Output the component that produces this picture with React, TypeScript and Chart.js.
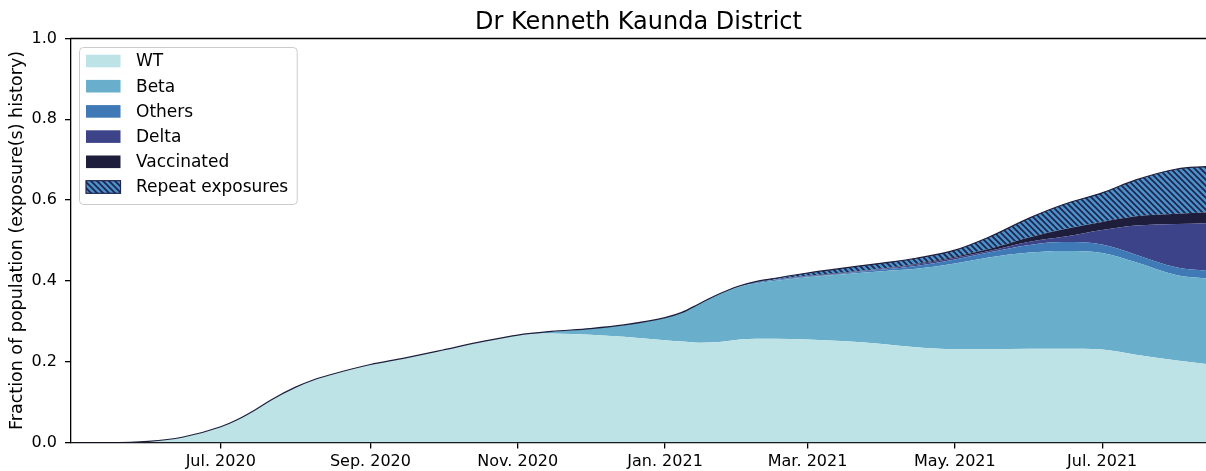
import React, { useEffect, useRef } from "react";
import { Chart, registerables } from "chart.js";

Chart.register(...registerables);

const TITLE = "Dr Kenneth Kaunda District";
const Y_LABEL = "Fraction of population (exposure(s) history)";

const dates = [
  "2020-04-30", "2020-05-15", "2020-06-01", "2020-06-15", "2020-07-01", "2020-07-08",
  "2020-07-15", "2020-07-22", "2020-08-01", "2020-08-08", "2020-08-15", "2020-09-01",
  "2020-09-15", "2020-10-01", "2020-10-15", "2020-11-01", "2020-11-15", "2020-12-01",
  "2020-12-15", "2021-01-01", "2021-01-08", "2021-01-15", "2021-01-22", "2021-02-01",
  "2021-02-08", "2021-02-15", "2021-03-01", "2021-03-15", "2021-04-01", "2021-04-15",
  "2021-05-01", "2021-05-15", "2021-06-01", "2021-06-15", "2021-07-01", "2021-07-15",
  "2021-08-01", "2021-08-13",
];

const wt = [
  0, 0, 0.003, 0.013, 0.039, 0.057,
  0.08, 0.106, 0.137, 0.154, 0.167, 0.193,
  0.209, 0.229, 0.247, 0.266, 0.27, 0.267,
  0.262, 0.253, 0.25, 0.247, 0.248, 0.255,
  0.257, 0.257, 0.255, 0.251, 0.244, 0.236,
  0.231, 0.231, 0.232, 0.232, 0.23, 0.217,
  0.203, 0.194,
];
const beta = [
  0, 0, 0, 0, 0, 0,
  0, 0, 0, 0, 0, 0,
  0, 0, 0, 0, 0.005, 0.015,
  0.029, 0.056, 0.072, 0.095, 0.115, 0.131,
  0.137, 0.143, 0.154, 0.165, 0.18, 0.194,
  0.212, 0.227, 0.238, 0.242, 0.239, 0.229,
  0.211, 0.212,
];
const others = [
  0, 0, 0, 0, 0, 0,
  0, 0, 0, 0, 0, 0,
  0, 0, 0, 0, 0, 0,
  0, 0, 0, 0.001, 0.001, 0.001,
  0.002, 0.002, 0.002, 0.002, 0.004, 0.007,
  0.01, 0.012, 0.019, 0.022, 0.021, 0.019,
  0.019, 0.019,
];
const delta = [
  0, 0, 0, 0, 0, 0,
  0, 0, 0, 0, 0, 0,
  0, 0, 0, 0, 0, 0,
  0, 0, 0, 0, 0, 0.001,
  0.001, 0.001, 0.001, 0.001, 0.002, 0.003,
  0.004, 0.004, 0.008, 0.013, 0.036, 0.072,
  0.108, 0.118,
];
const vaccinated = [
  0, 0, 0, 0, 0, 0,
  0, 0, 0, 0, 0, 0,
  0, 0, 0, 0, 0, 0,
  0, 0, 0, 0, 0, 0,
  0, 0, 0.0005, 0.001, 0.001, 0.002,
  0.003, 0.005, 0.011, 0.019, 0.02, 0.023,
  0.025, 0.026,
];
const repeatExposures = [
  0, 0, 0, 0, 0, 0,
  0, 0, 0, 0, 0, 0,
  0, 0, 0, 0, 0, 0,
  0, 0, 0, 0, 0, 0,
  0.002, 0.003, 0.007, 0.011, 0.013, 0.014,
  0.016, 0.029, 0.048, 0.061, 0.072, 0.09,
  0.111, 0.114,
];

const seriesNames = ["WT", "Beta", "Others", "Delta", "Vaccinated", "Repeat exposures"];
const seriesColors = ["#bde3e6", "#69aeca", "#3f7ab6", "#3d4389", "#1e1e3c", "#4b92c8"];
const HATCH_LINE = "#1f2450";

const tickDates = ["2020-07-01", "2020-09-01", "2020-11-01", "2021-01-01", "2021-03-01", "2021-05-01", "2021-07-01"];
const tickLabels = ["Jul. 2020", "Sep. 2020", "Nov. 2020", "Jan. 2021", "Mar. 2021", "May. 2021", "Jul. 2021"];
const X_START = "2020-04-30";
const X_END = "2021-08-13";
const yTicks = [0, 0.2, 0.4, 0.6, 0.8, 1.0];

const FONT = "'DejaVu Sans', sans-serif";

function dayNum(s: string): number {
  return Date.parse(s + "T00:00:00Z") / 86400000;
}

function makeHatch(bg: string, fg: string): CanvasPattern | string {
  const s = 6;
  const c = document.createElement("canvas");
  c.width = s;
  c.height = s;
  const g = c.getContext("2d");
  if (!g) return bg;
  g.fillStyle = bg;
  g.fillRect(0, 0, s, s);
  g.strokeStyle = fg;
  g.lineWidth = 1.7;
  g.beginPath();
  g.moveTo(-1, -1);
  g.lineTo(s + 1, s + 1);
  g.moveTo(-1, s - 1);
  g.lineTo(1, s + 1);
  g.moveTo(s - 1, -1);
  g.lineTo(s + 1, 1);
  g.stroke();
  return g.createPattern(c, "repeat") || bg;
}

export default function App() {
  const ref = useRef<HTMLCanvasElement | null>(null);

  useEffect(() => {
    document.body.style.margin = "0";
    const canvas = ref.current;
    if (!canvas) return;

    const layers = [wt, beta, others, delta, vaccinated, repeatExposures];
    const xs = dates.map(dayNum);
    const cum: number[][] = [];
    layers.forEach((arr, i) => {
      cum.push(arr.map((v, j) => v + (i > 0 ? cum[i - 1][j] : 0)));
    });
    const hatch = makeHatch(seriesColors[5], HATCH_LINE);
    const fills: (string | CanvasPattern)[] = seriesColors.slice(0, 5).concat([hatch as any]);

    const datasets: any[] = layers.map((_, i) => ({
      label: seriesNames[i],
      data: xs.map((x, j) => ({ x, y: cum[i][j] })),
      backgroundColor: fills[i],
      borderColor: fills[i],
      borderWidth: 0,
      pointRadius: 0,
      fill: i === 0 ? "origin" : "-1",
      cubicInterpolationMode: "monotone",
      order: 0,
    }));
    datasets.push({
      label: "_outline",
      data: xs.map((x, j) => ({ x, y: cum[5][j] })),
      borderColor: "#1e1e3c",
      borderWidth: 1.2,
      pointRadius: 0,
      fill: false,
      cubicInterpolationMode: "monotone",
      order: -1,
    });

    const tickValues = tickDates.map(dayNum);

    const decor = {
      id: "decor",
      afterDraw(chart: any) {
        const { ctx, chartArea } = chart;
        ctx.save();
        // top spine
        ctx.strokeStyle = "#000";
        ctx.lineWidth = 1.3;
        ctx.beginPath();
        ctx.moveTo(chartArea.left - 0.65, chartArea.top);
        ctx.lineTo(chartArea.right + 2, chartArea.top);
        ctx.stroke();
        // title
        ctx.fillStyle = "#000";
        ctx.font = `24px ${FONT}`;
        ctx.textAlign = "center";
        ctx.textBaseline = "alphabetic";
        ctx.fillText(TITLE, (chartArea.left + chartArea.right) / 2, 29);
        // y label
        ctx.save();
        ctx.translate(17, (chartArea.top + chartArea.bottom) / 2);
        ctx.rotate(-Math.PI / 2);
        ctx.font = `17.5px ${FONT}`;
        ctx.textBaseline = "middle";
        ctx.fillText(Y_LABEL, 0, 0);
        ctx.restore();
        // legend
        ctx.font = `17px ${FONT}`;
        let maxW = 0;
        seriesNames.forEach((n) => (maxW = Math.max(maxW, ctx.measureText(n).width)));
        const fx = 79.5, fy = 47.5;
        const fw = 136 - fx + maxW + 9;
        const fh = 157;
        ctx.beginPath();
        (ctx as any).roundRect(fx, fy, fw, fh, 4);
        ctx.fillStyle = "rgba(255,255,255,0.8)";
        ctx.fill();
        ctx.strokeStyle = "#cccccc";
        ctx.lineWidth = 1;
        ctx.stroke();
        const rows = [61, 86.2, 111.4, 136.6, 161.8, 187];
        seriesNames.forEach((n, i) => {
          const cy = rows[i];
          ctx.fillStyle = fills[i] as any;
          ctx.fillRect(86, cy - 6.3, 34.5, 12.6);
          if (i === 5) {
            ctx.strokeStyle = HATCH_LINE;
            ctx.lineWidth = 1.2;
            ctx.strokeRect(86, cy - 6.3, 34.5, 12.6);
          }
          ctx.fillStyle = "#000";
          ctx.textAlign = "left";
          ctx.textBaseline = "middle";
          ctx.fillText(n, 136, cy + 1);
        });
        ctx.restore();
      },
    };

    const chart = new Chart(canvas, {
      type: "line",
      data: { datasets },
      options: {
        animation: false,
        responsive: false,
        devicePixelRatio: 1,
        layout: { padding: { top: 38.5, left: 0, right: 0, bottom: 0 } },
        plugins: {
          legend: { display: false },
          title: { display: false },
          tooltip: { enabled: false },
        },
        elements: { line: { tension: 0.4 } },
        scales: {
          x: {
            type: "linear",
            min: dayNum(X_START),
            max: dayNum(X_END),
            afterBuildTicks: (scale: any) => {
              scale.ticks = tickValues.map((v) => ({ value: v }));
            },
            afterFit: (scale: any) => {
              scale.height = 28.5;
              scale.paddingLeft = 0;
              scale.paddingRight = 0;
            },
            ticks: {
              autoSkip: false,
              maxRotation: 0,
              padding: 4,
              color: "#000",
              font: { family: FONT, size: 16 },
              callback: (v: any) => {
                const i = tickValues.indexOf(Number(v));
                return i >= 0 ? tickLabels[i] : "";
              },
            },
            grid: {
              display: true,
              drawOnChartArea: false,
              drawTicks: true,
              tickLength: 6,
              color: "#000",
              lineWidth: 1.3,
            },
            border: { display: true, color: "#000", width: 1.3 },
          },
          y: {
            type: "linear",
            min: 0,
            max: 1,
            afterBuildTicks: (scale: any) => {
              scale.ticks = yTicks.map((v) => ({ value: v }));
            },
            afterFit: (scale: any) => {
              scale.width = 71;
            },
            ticks: {
              padding: 8,
              color: "#000",
              font: { family: FONT, size: 16 },
              callback: (v: any) => Number(v).toFixed(1),
            },
            grid: {
              display: true,
              drawOnChartArea: false,
              drawTicks: true,
              tickLength: 6,
              color: "#000",
              lineWidth: 1.3,
            },
            border: { display: true, color: "#000", width: 1.3 },
          },
        },
      },
      plugins: [decor],
    } as any);

    return () => chart.destroy();
  }, []);

  return <canvas ref={ref} width={1206} height={471} style={{ display: "block" }} />;
}
